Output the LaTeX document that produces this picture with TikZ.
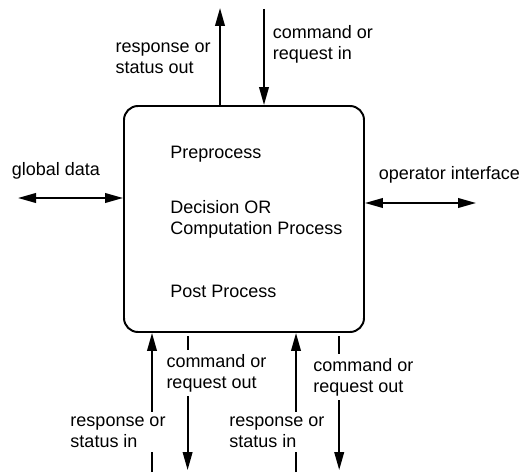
\documentclass[tikz,border=0pt]{standalone}
\usepackage{fontspec}
\setmainfont{Liberation Sans}
\usetikzlibrary{arrows.meta}

\begin{document}
\begin{tikzpicture}[
    flow/.style={line width=1.4pt, -{Triangle[length=4.5mm, width=2.4mm]}},
    both/.style={line width=1.4pt, {Triangle[length=4.5mm, width=2.4mm]}-{Triangle[length=4.5mm, width=2.4mm]}},
    lbl/.style={align=left, inner sep=1pt, font=\fontsize{12.8}{15}\selectfont},
    cover/.style={lbl, fill=white, inner sep=3pt}]
      \useasboundingbox (0,0) rectangle (13,11.8);

      \node[draw, line width=1.4pt, rounded corners=3.5mm, minimum width=6cm, minimum height=5.65cm] (proc) at (6.1,6.325) {};
      \node[lbl, anchor=west] (pre) at (4.22,7.95) {Preprocess};
      \node[lbl, anchor=west] (dec) at (4.22,6.325) {Decision OR\\Computation Process};
      \node[lbl, anchor=west] (post) at (4.22,4.525) {Post Process};

      % top
      \coordinate (rsout) at (5.5,11.6);
      \coordinate (cmdin) at (6.6,11.58);
      \draw[flow] (proc.north -| rsout) -- (rsout);
      \draw[flow] (cmdin) -- (cmdin |- proc.north);
      \node[lbl, anchor=west] (l-rsout) at (2.85,10.35) {response or\\status out};
      \node[lbl, anchor=west] (l-cmdin) at (6.78,10.7) {command or\\request in};

      % sides
      \coordinate (gd) at (0.45,6.85);
      \coordinate (oi) at (11.9,6.725);
      \draw[both] (gd) -- (gd -| proc.west);
      \draw[both] (oi -| proc.east) -- (oi);
      \node[lbl] (l-gd) at (1.4,7.525) {global data};
      \node[lbl, anchor=west] (l-oi) at (9.43,7.425) {operator interface};

      % bottom
      \coordinate (rsin1) at (3.8,0);
      \coordinate (cmdout1) at (4.69,0.05);
      \coordinate (rsin2) at (7.4,0);
      \coordinate (cmdout2) at (8.48,0.05);
      \draw[flow] (rsin1) -- (rsin1 |- proc.south);
      \draw[flow, shorten <=0.8mm] (proc.south -| cmdout1) -- (cmdout1);
      \draw[flow] (rsin2) -- (rsin2 |- proc.south);
      \draw[flow, shorten <=0.8mm] (proc.south -| cmdout2) -- (cmdout2);
      \node[cover, anchor=west] (l-rsin1) at (1.65,1.0) {response or\\status in};
      \node[cover, anchor=west] (l-cmdout1) at (4.05,2.475) {command or\\request out};
      \node[cover, anchor=west] (l-rsin2) at (5.62,1.0) {response or\\status in};
      \node[cover, anchor=west] (l-cmdout2) at (7.72,2.375) {command or\\request out};
    \end{tikzpicture}
\end{document}
